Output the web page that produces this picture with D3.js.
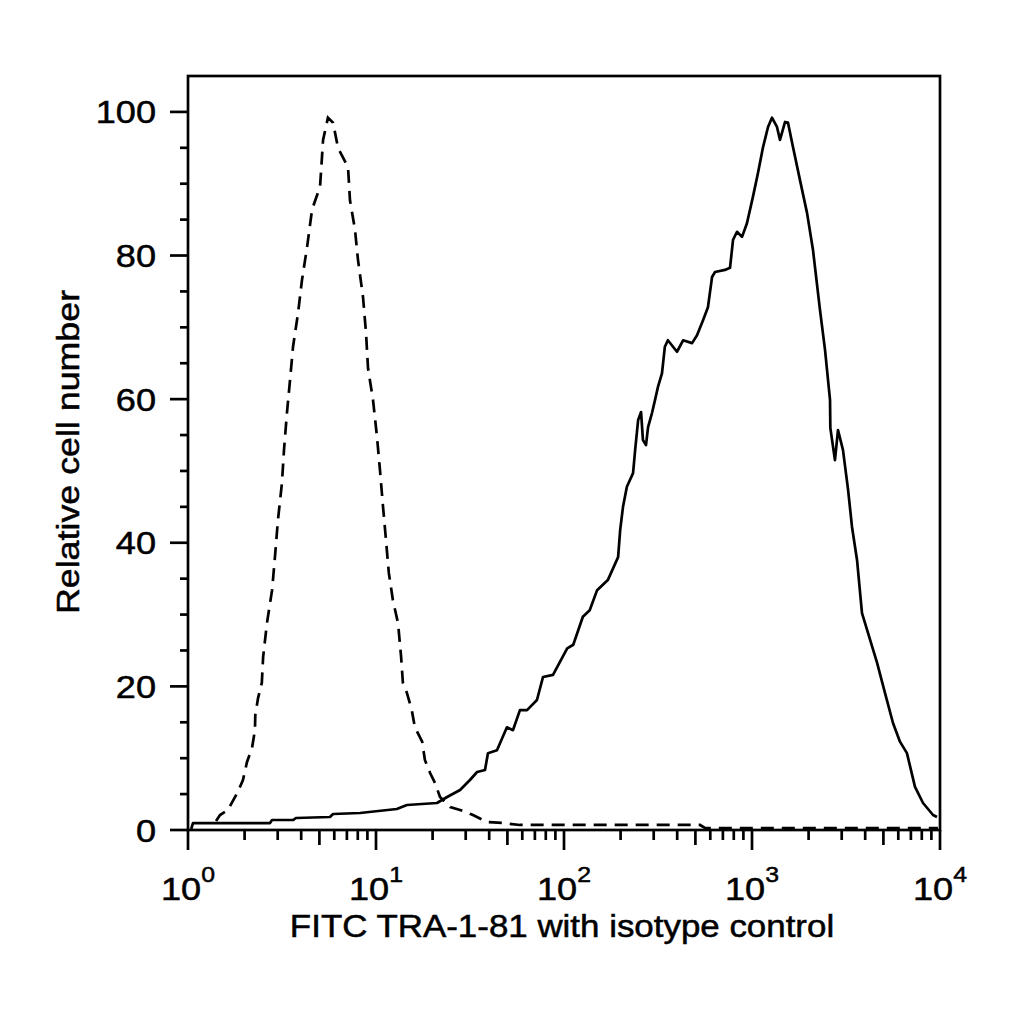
<!DOCTYPE html>
<html>
<head>
<meta charset="utf-8">
<script src="https://d3js.org/d3.v7.min.js"></script>
<style>
  html, body { margin: 0; padding: 0; background: #fff; }
  #chart-container { width: 1024px; height: 1024px; }
  text { font-family: "Liberation Sans", Arial, sans-serif; fill: #000; stroke: #000; stroke-width: 0.5px; }
</style>
</head>
<body>
<div id="chart-container"></div>
<script>
// FITC TRA-1-81 histogram (solid) with isotype control (dashed)
// x = fluorescence intensity (log), y = relative cell number (%)
const solidX = [
  1.04, 1.063, 2.73, 2.80, 3.62, 3.75, 5.69, 5.91, 8.22, 12.9,
  14.6, 21.1, 23.9, 28.0, 31.6, 34.5, 38.0, 39.4, 44.0, 49.7,
  53.5, 58.3, 63.6, 71.8, 77.3, 87.4, 104, 112, 126, 137,
  150, 171, 194, 199, 206, 216, 233, 239, 248, 257,
  263, 273, 280, 294, 305, 316, 332, 344, 357, 399,
  430, 480, 510, 549, 583, 613, 636, 718, 764, 793,
  832, 885, 940, 1012, 1076, 1145, 1217, 1277, 1358, 1409,
  1499, 1554, 1652, 1800, 1963, 2110, 2300, 2445, 2600, 2610,
  2762, 2867, 3048, 3243, 3404, 3620, 3847, 4090, 4624, 5096,
  5623, 6124, 6670, 7362, 8123, 9182, 9640
];
const solidY = [
  0.14, 0.97, 0.97, 1.39, 1.39, 1.67, 1.81, 2.23, 2.37, 2.92,
  3.48, 3.76, 4.60, 5.57, 6.96, 8.08, 8.36, 10.7, 11.1, 14.3,
  13.9, 16.7, 16.7, 18.1, 21.3, 21.6, 25.3, 25.8, 29.7, 30.6,
  33.4, 34.8, 38.0, 41.8, 45.0, 47.8, 49.7, 52.9, 57.1, 58.2,
  54.3, 53.6, 56.1, 58.1, 59.9, 61.7, 63.6, 67.3, 68.2, 66.6,
  68.2, 67.8, 68.9, 71.0, 72.8, 77.0, 77.7, 78.0, 78.3, 82.2,
  83.3, 82.6, 84.5, 88.2, 91.5, 95.1, 97.9, 99.2, 97.9, 96.1,
  98.6, 98.5, 95.1, 90.5, 85.9, 80.8, 72.4, 66.9, 59.9, 56.0,
  51.5, 55.7, 52.9, 47.4, 42.2, 37.6, 30.2, 27.9, 23.3, 19.1,
  14.9, 12.3, 10.7, 6.0, 3.76, 2.09, 1.81
];

const isoX = [
  1.41, 1.48, 1.63, 1.84, 1.96, 2.06, 2.19, 2.27, 2.28, 2.36,
  2.47, 2.51, 2.63, 2.80, 2.90, 3.01, 3.16, 3.24, 3.36, 3.49,
  3.62, 3.85, 4.04, 4.30, 4.57, 5.04, 5.16, 5.23, 5.55, 5.91,
  6.28, 7.10, 7.27, 7.73, 8.02, 8.53, 8.85, 9.07, 9.64, 10.1,
  10.5, 10.9, 11.3, 11.7, 12.3, 13.1, 13.6, 13.9, 14.6, 15.5,
  16.1, 17.6, 18.2, 19.4, 20.6, 21.9, 24.8, 28.0, 32.8, 38.9,
  47.4, 58.3, 529, 562, 9750
];
const isoY = [
  1.25, 2.09, 2.79, 5.29, 6.96, 9.47, 11.4, 13.9, 16.0, 18.4,
  20.5, 24.1, 28.8, 33.4, 38.0, 43.2, 48.3, 52.9, 58.1, 62.7,
  67.3, 72.0, 76.6, 81.2, 86.4, 89.6, 93.7, 96.1, 99.2, 98.5,
  95.0, 92.3, 87.7, 83.6, 79.4, 74.2, 69.2, 64.3, 59.9, 55.0,
  50.1, 45.0, 40.4, 35.8, 32.0, 28.8, 24.1, 20.5, 19.1, 16.7,
  14.3, 12.3, 9.75, 7.94, 6.55, 4.60, 3.20, 2.79, 2.09, 1.11,
  0.97, 0.70, 0.70, 0.28, 0.28
];

const yTicks = [0, 20, 40, 60, 80, 100];
const xDecades = [0, 1, 2, 3, 4];
const xTitle = "FITC TRA-1-81 with isotype control";
const yTitle = "Relative cell number";

function renderChart() {
    d3.select("#chart-container svg").remove();

    const svg = d3.select("#chart-container")
        .append("svg")
        .attr("width", 1024)
        .attr("height", 1024);

    // plot box in pixels
    const left = 188, right = 940, top = 76, bottom = 830;

    const x = d3.scaleLog().domain([1, 1e4]).range([left, right]);
    const y = d3.scaleLinear().domain([0, 105]).range([bottom, top]);

    // frame (top + right)
    svg.append("rect")
        .attr("x", left)
        .attr("y", top)
        .attr("width", right - left)
        .attr("height", bottom - top)
        .attr("fill", "none")
        .attr("stroke", "#000")
        .attr("stroke-width", 2.7);

    // x axis ticks: decades long, 5s medium, others short
    const xMinor = [];
    for (let e = 0; e < 4; e++) {
        for (let m = 2; m <= 9; m++) xMinor.push({ v: m * Math.pow(10, e), len: m === 5 ? 15 : 10 });
    }
    svg.append("g").selectAll("line")
        .data(xMinor)
        .join("line")
        .attr("x1", d => x(d.v)).attr("x2", d => x(d.v))
        .attr("y1", bottom).attr("y2", d => bottom + d.len)
        .attr("stroke", "#000").attr("stroke-width", 2.7);

    svg.append("g").selectAll("line")
        .data(xDecades)
        .join("line")
        .attr("x1", d => x(Math.pow(10, d))).attr("x2", d => x(Math.pow(10, d)))
        .attr("y1", bottom).attr("y2", bottom + 20)
        .attr("stroke", "#000").attr("stroke-width", 2.7);

    // x tick labels 10^n
    xDecades.forEach(d => {
        const t = svg.append("text")
            .attr("transform", `translate(${x(Math.pow(10, d))},900) scale(1.13,1)`)
            .attr("text-anchor", "middle")
            .style("font-size", "32px");
        t.append("tspan").text("10");
        t.append("tspan").attr("dy", -18).style("font-size", "22px").text(d);
    });

    // y axis ticks
    const yMinor = d3.range(0, 101, 5).filter(v => v % 20 !== 0);
    svg.append("g").selectAll("line")
        .data(yMinor)
        .join("line")
        .attr("x1", left - 8).attr("x2", left)
        .attr("y1", d => y(d)).attr("y2", d => y(d))
        .attr("stroke", "#000").attr("stroke-width", 2.7);

    svg.append("g").selectAll("line")
        .data(yTicks)
        .join("line")
        .attr("x1", left - 18).attr("x2", left)
        .attr("y1", d => y(d)).attr("y2", d => y(d))
        .attr("stroke", "#000").attr("stroke-width", 2.7);

    svg.append("g").selectAll("text")
        .data(yTicks)
        .join("text")
        .attr("transform", d => `translate(156,${y(d)}) scale(1.13,1)`)
        .attr("dy", "0.36em")
        .attr("text-anchor", "end")
        .style("font-size", "32px")
        .text(d => d);

    // axis titles
    svg.append("text")
        .attr("transform", "translate(562,937) scale(1.126,1)")
        .attr("text-anchor", "middle")
        .style("font-size", "31px")
        .text(xTitle);

    svg.append("text")
        .attr("transform", "translate(79,452) rotate(-90) scale(1.155,1)")
        .attr("text-anchor", "middle")
        .style("font-size", "31px")
        .text(yTitle);

    // histograms
    const line = d3.line()
        .x(d => x(d[0]))
        .y(d => y(d[1]));

    svg.append("path")
        .datum(isoX.map((v, i) => [v, isoY[i]]))
        .attr("d", line)
        .attr("fill", "none")
        .attr("stroke", "#000")
        .attr("stroke-width", 2.7)
        .attr("stroke-dasharray", "13,8");

    svg.append("path")
        .datum(solidX.map((v, i) => [v, solidY[i]]))
        .attr("d", line)
        .attr("fill", "none")
        .attr("stroke", "#000")
        .attr("stroke-width", 2.7)
        .attr("stroke-linejoin", "round");
}

renderChart();
</script>
</body>
</html>
